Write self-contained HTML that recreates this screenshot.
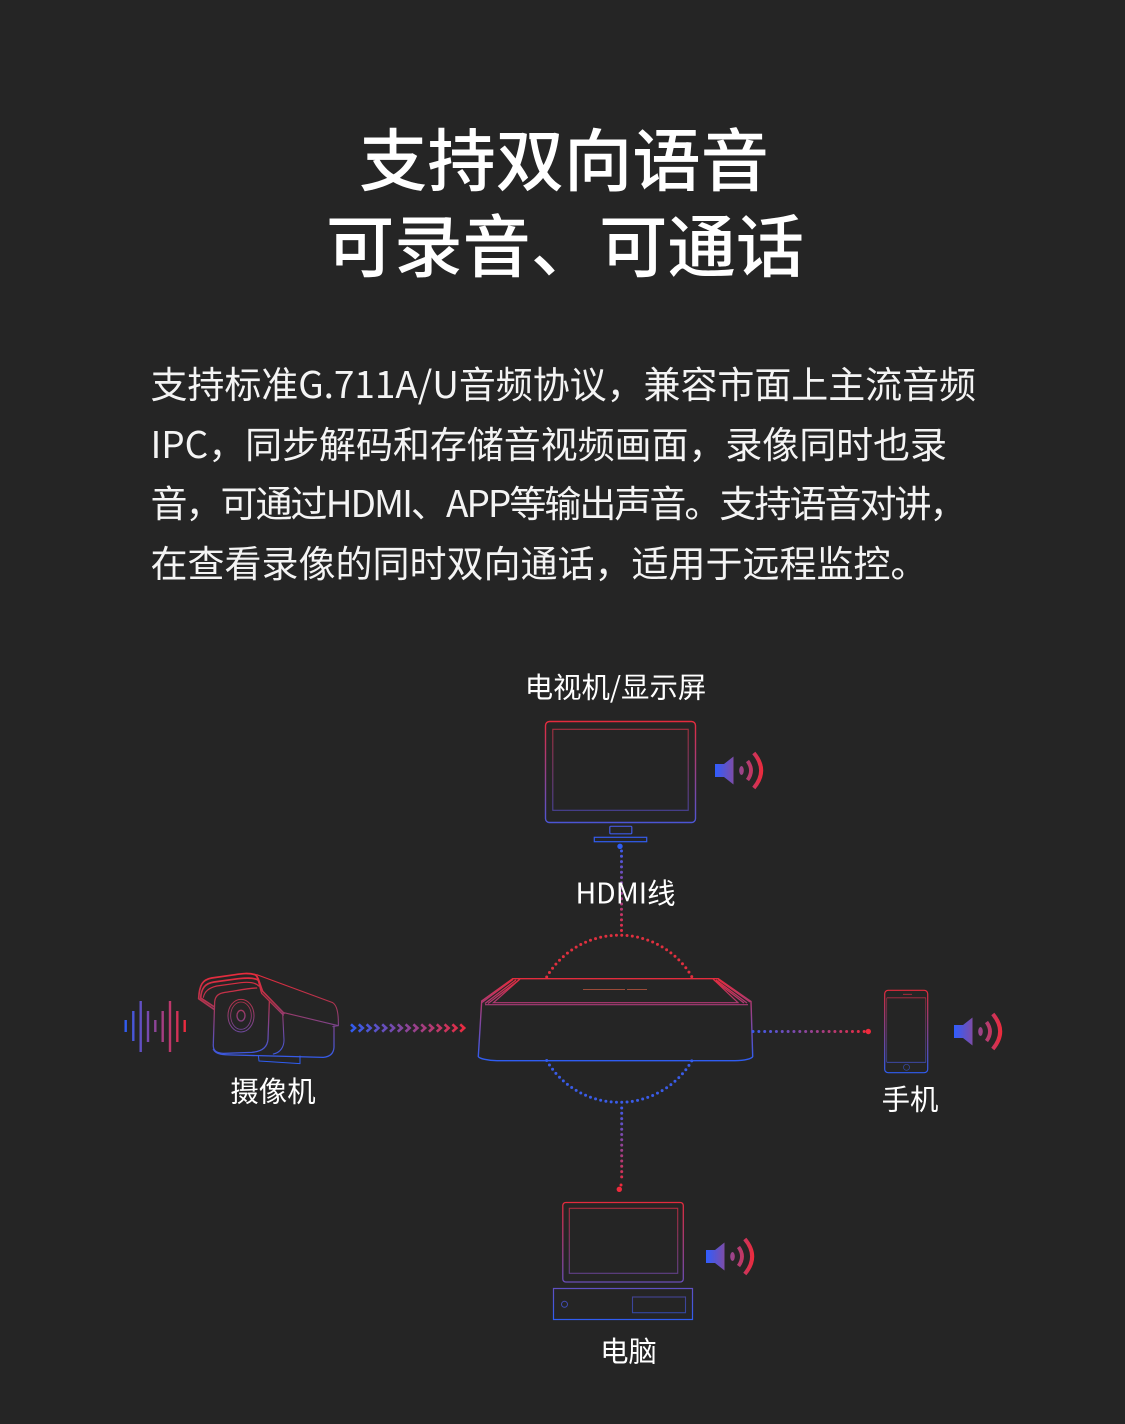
<!DOCTYPE html>
<html lang="zh">
<head>
<meta charset="utf-8">
<style>
html,body{margin:0;padding:0;background:#252525;}
svg{display:block;}
text{font-family:"Liberation Sans","Noto Sans CJK SC",sans-serif;fill:#fff;}
.cjk text, text.cjk{font-family:"Noto Sans CJK SC","Liberation Sans",sans-serif;}
</style>
</head>
<body>
<svg xmlns="http://www.w3.org/2000/svg" width="1125" height="1424" viewBox="0 0 1125 1424">
<defs>
<linearGradient id="tv" gradientUnits="userSpaceOnUse" x1="0" y1="721" x2="0" y2="842"><stop offset="0" stop-color="#e52b3c"/><stop offset="1" stop-color="#2f5df2"/></linearGradient>
<linearGradient id="tvin" gradientUnits="userSpaceOnUse" x1="0" y1="729" x2="0" y2="811"><stop offset="0" stop-color="#a8303f"/><stop offset="1" stop-color="#4a429a"/></linearGradient>
<linearGradient id="hd" gradientUnits="userSpaceOnUse" x1="0" y1="848" x2="0" y2="935"><stop offset="0" stop-color="#3a5cf0"/><stop offset="1" stop-color="#ee2a3c"/></linearGradient>
<linearGradient id="dn" gradientUnits="userSpaceOnUse" x1="0" y1="1105" x2="0" y2="1186"><stop offset="0" stop-color="#3a5cf0"/><stop offset="1" stop-color="#ee2a3c"/></linearGradient>
<linearGradient id="rt" gradientUnits="userSpaceOnUse" x1="752" y1="0" x2="868" y2="0"><stop offset="0" stop-color="#3a5cf0"/><stop offset="1" stop-color="#ee2a3c"/></linearGradient>
<linearGradient id="ar" gradientUnits="userSpaceOnUse" x1="350" y1="0" x2="467" y2="0"><stop offset="0" stop-color="#2f5df2"/><stop offset="1" stop-color="#ee2a3c"/></linearGradient>
<linearGradient id="wv" gradientUnits="userSpaceOnUse" x1="125" y1="0" x2="186" y2="0"><stop offset="0" stop-color="#2f5df2"/><stop offset="1" stop-color="#ee2a3c"/></linearGradient>
<linearGradient id="cam" gradientUnits="userSpaceOnUse" x1="0" y1="40" x2="0" y2="300"><stop offset="0" stop-color="#e92b3c"/><stop offset=".35" stop-color="#b0344f"/><stop offset="1" stop-color="#2f5df2"/></linearGradient>
<linearGradient id="box" gradientUnits="userSpaceOnUse" x1="0" y1="978" x2="0" y2="1060"><stop offset="0" stop-color="#e52b3c"/><stop offset="1" stop-color="#2f5df2"/></linearGradient>
<linearGradient id="ph" gradientUnits="userSpaceOnUse" x1="0" y1="990" x2="0" y2="1073"><stop offset="0" stop-color="#e52b3c"/><stop offset="1" stop-color="#2f5df2"/></linearGradient>
<linearGradient id="pc" gradientUnits="userSpaceOnUse" x1="0" y1="1202" x2="0" y2="1320"><stop offset="0" stop-color="#e52b3c"/><stop offset="1" stop-color="#2f5df2"/></linearGradient>
<linearGradient id="sp" gradientUnits="userSpaceOnUse" x1="0" y1="0" x2="48" y2="0"><stop offset="0" stop-color="#2f5dff"/><stop offset=".45" stop-color="#8a4a9a"/><stop offset="1" stop-color="#ee2a3a"/></linearGradient>
<g id="spk">
<path d="M0-6.5H9L18.5-14V14L9 6.500H0Z" fill="url(#sp)"/>
<ellipse cx="26.500" cy="0" rx="2.300" ry="4.500" fill="url(#sp)"/>
<path d="M32.500-9.500Q39.500 0 32.500 9.500" fill="none" stroke="url(#sp)" stroke-width="3.800"/>
<path d="M38.800-17.500Q53.500 0 38.800 17.500" fill="none" stroke="url(#sp)" stroke-width="4"/>
</g>
</defs>
<rect width="1125" height="1424" fill="#252525"/>

<g class="cjk">
<text x="564" y="185.500" font-size="68.300" font-weight="500" text-anchor="middle">支持双向语音</text>
<text x="565" y="271.500" font-size="68.300" font-weight="500" text-anchor="middle">可录音、可通话</text>
<g font-size="37" font-weight="400" fill-opacity=".95">
<text x="150.500" y="398" textLength="825.500">支持标准G.711A/U音频协议，兼容市面上主流音频</text>
<text x="150.500" y="458" textLength="796.500">IPC，同步解码和存储音视频画面，录像同时也录</text>
<text x="150.500" y="517" textLength="816">音，可通过HDMI、APP等输出声音。支持语音对讲，</text>
<text x="150.500" y="577" textLength="777">在查看录像的同时双向通话，适用于远程监控。</text>
</g>
<g font-size="28.400" font-weight="400">
<text x="615.500" y="697.500" text-anchor="middle">电视机/显示屏</text>
<text x="273" y="1101.500" text-anchor="middle">摄像机</text>
<text x="910" y="1109.500" text-anchor="middle">手机</text>
<text x="628.500" y="1361.500" text-anchor="middle">电脑</text>
</g>
</g>

<!-- TV -->
<g fill="none">
<rect x="545.500" y="721.500" width="150" height="101" rx="4" stroke="url(#tv)" stroke-width="1.400"/>
<rect x="552.800" y="729.300" width="135.400" height="81" stroke="url(#tvin)" stroke-width="1.100"/>
<rect x="609.800" y="826.300" width="22" height="7.500" rx="1" stroke="url(#tv)" stroke-width="1.200"/>
<rect x="594.300" y="837.300" width="52.400" height="4.400" stroke="url(#tv)" stroke-width="1.200"/>
</g>
<circle cx="620" cy="846.300" r="2.700" fill="#2f5df2"/>
<path d="M621.500 851V935" fill="none" stroke="url(#hd)" stroke-width="3" stroke-linecap="round" stroke-dasharray="0 5.300"/>
<text class="cjk" x="625.500" y="903.500" font-size="28.400" text-anchor="middle">HDMI线</text>
<use href="#spk" transform="translate(715 770.500)"/>

<!-- circle arcs -->
<path d="M546.700 977A84 84 0 0 1 692 977" fill="none" stroke="#e0303f" stroke-width="3" stroke-linecap="round" stroke-dasharray="0 5.300"/>
<path d="M546.700 1060.500A84 84 0 0 0 692 1060.500" fill="none" stroke="#3a5ce8" stroke-width="3" stroke-linecap="round" stroke-dasharray="0 5.300"/>

<!-- NVR box -->
<g fill="none" stroke="url(#box)">
<path d="M512.700 978.700H718.300L751 1001.500L752.700 1056.500C752 1058.500 745 1060.700 735 1060.700H497C488 1060.700 479 1058.500 478.300 1056.500L481.700 1001Z" stroke-width="1.400"/>
<path d="M482 1002.500L513 979.500M485 1003.500L516 980M488 1003.500L519 980M750 1002L718 979.500M747 1003L716 980M744 1003L714 980" stroke-width="1.300"/>
<path d="M520 979L493.500 1002.700H738L713 979" stroke-width="1.200"/>
<path d="M485 1004.700H748" stroke-width="1.100"/>
</g>
<path d="M583 989.500H625M627 989.500H647" stroke="#c2573f" stroke-width="1" opacity=".75" fill="none"/>

<!-- Right link + phone -->
<path d="M753 1031.500H866" fill="none" stroke="url(#rt)" stroke-width="3" stroke-linecap="round" stroke-dasharray="0 5.850"/>
<circle cx="868.300" cy="1031.500" r="2.700" fill="#ee2a3c"/>
<g fill="none" stroke="url(#ph)">
<rect x="884.700" y="990.300" width="43" height="82.400" rx="3.500" stroke-width="1.200"/>
<path d="M886.800 997.800H925.800M886.800 1062.300H925.800M903 994.300H912" stroke-width=".8" opacity=".8"/>
<path d="M886.800 997.800V1062.300M925.800 997.800V1062.300" stroke-width=".5"/>
<circle cx="906.500" cy="1067.300" r="3" stroke-width=".7" opacity=".7"/>
</g>
<use href="#spk" transform="translate(954 1031.500)"/>

<!-- Bottom link + PC -->
<path d="M621.700 1108V1180" fill="none" stroke="url(#dn)" stroke-width="3" stroke-linecap="round" stroke-dasharray="0 5.300"/>
<circle cx="621" cy="1185" r="1.500" fill="#ee2a3c"/>
<circle cx="619.300" cy="1189.300" r="2.700" fill="#ee2a3c"/>
<g fill="none" stroke="url(#pc)">
<rect x="562.800" y="1202.500" width="120.500" height="79.500" rx="3" stroke-width="1.300"/>
<rect x="569.300" y="1208.300" width="108.400" height="65" stroke-width="1.100" opacity=".75"/>
<rect x="553.500" y="1288.500" width="139" height="31" stroke-width="1.200"/>
<circle cx="564.500" cy="1304.300" r="3" stroke-width="1" opacity=".8"/>
<rect x="632.500" y="1297" width="53" height="15.700" stroke-width="1.100" opacity=".65"/>
</g>
<use href="#spk" transform="translate(706 1256.500)"/>

<!-- Wave bars -->
<g stroke="url(#wv)" stroke-width="2.400" fill="none">
<path d="M125.700 1020V1032M133.300 1011V1041M140.700 1001V1052M148 1011V1042M155.300 1020V1032M162.700 1011V1042M170 1001V1052M177.300 1011V1042M184.700 1020V1032"/>
</g>

<!-- Camera -->
<g transform="translate(110 960) scale(.33333)" fill="none" stroke="url(#cam)" stroke-width="3.300" stroke-linejoin="round" stroke-linecap="round">
<path stroke-width="5" d="M435 44C415 38 395 41 375 44L305 54C278 59 268 74 266 116L312 148"/>
<path stroke-width="5" d="M444 60C430 52 405 54 385 56L312 66C285 70 274 85 272 114L312 140"/>
<path stroke-width="3.500" d="M446 78C436 66 412 66 392 68L320 78C296 84 284 94 280 112"/>
<path stroke-width="5" d="M435 44C445 48 450 75 458 94L522 160"/>
<path stroke-width="4" d="M444 60C448 70 450 85 455 100L520 165"/>
<path stroke-width="3.800" d="M440 84C420 84 380 92 345 97C325 100 316 108 314 125L310 250C308 272 318 279 340 280L425 277C455 275 472 262 474 238L478 125"/>
<path stroke-width="3.800" d="M310 268C318 284 340 285 370 285L640 292C663 290 671 278 672 262L672 198"/>
<path d="M518 160L522 240C522 262 510 278 490 282"/>
<path d="M440 44L668 128C680 135 686 155 685 197L522 158"/>
<path d="M685 197L668 200" stroke-width="2.500"/>
<path d="M445 286L447 303L570 311V288" stroke-width="3"/>
<ellipse cx="393" cy="167" rx="39" ry="49" stroke-width="3"/>
<ellipse cx="393" cy="167" rx="31" ry="41" stroke-width="2.500"/>
<ellipse cx="393" cy="167" rx="12" ry="16" stroke-width="4"/>
</g>

<!-- Chevrons -->
<path d="M351 1024.300L355 1028L351 1031.700M358.800 1024.300L362.800 1028L358.800 1031.700M366.600 1024.300L370.600 1028L366.600 1031.700M374.400 1024.300L378.400 1028L374.400 1031.700M382.200 1024.300L386.200 1028L382.200 1031.700M390 1024.300L394 1028L390 1031.700M397.800 1024.300L401.800 1028L397.800 1031.700M405.600 1024.300L409.600 1028L405.600 1031.700M413.400 1024.300L417.400 1028L413.400 1031.700M421.200 1024.300L425.200 1028L421.200 1031.700M429 1024.300L433 1028L429 1031.700M436.800 1024.300L440.800 1028L436.800 1031.700M444.600 1024.300L448.600 1028L444.600 1031.700M452.400 1024.300L456.400 1028L452.400 1031.700M460.200 1024.300L464.200 1028L460.200 1031.700" fill="none" stroke="url(#ar)" stroke-width="2.600"/>
</svg>
</body>
</html>
